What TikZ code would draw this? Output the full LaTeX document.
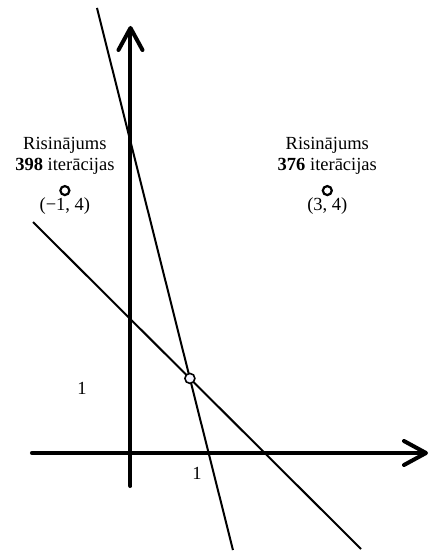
\documentclass[tikz,border=0pt]{standalone}
\usepackage{fontspec}
\setmainfont{Liberation Serif}
\usetikzlibrary{arrows.meta,positioning}
\begin{document}
\begin{tikzpicture}[x=65.6pt, y=65.6pt,
  axis/.style={line width=4pt, line cap=round, -{Straight Barb[length=22pt,width=24pt,line cap=round,line join=round]}},
  constraint/.style={line width=2pt},
  start/.style={draw, circle, line width=2.2pt, minimum size=9pt, inner sep=0pt, fill=white},
  result/.style={draw, circle, line width=1.6pt, minimum size=10pt, inner sep=0pt, fill=blue!4},
  every node/.style={font=\fontsize{18.5}{21.5}\selectfont}]
\useasboundingbox (-1.989,-1.509) rectangle (4.566,6.905);
\coordinate (xstart) at (-1.502,0);
\coordinate (xend) at (4.535,0);
\coordinate (ystart) at (0,-0.503);
\coordinate (yend) at (0,6.509);
\draw[axis] (xstart) -- (xend);
\draw[axis] (ystart) -- (yend);
\coordinate (steepA) at (-0.511,6.784);
\coordinate (steepB) at (1.562,-1.479);
\coordinate (flatA) at (-1.486,3.521);
\coordinate (flatB) at (3.514,-1.463);
\draw[constraint] (steepA) -- (steepB);
\draw[constraint] (flatA) -- (flatB);
\node[result] (solution) at (intersection of steepA--steepB and flatA--flatB) {};
\node[start] (startleft) at (-1,4) {};
\node[start] (startright) at (3,4) {};
\node[below=1pt of startleft, inner sep=0pt] (coordleft) {(−1, 4)};
\node[below=1pt of startright, inner sep=0pt] (coordright) {(3, 4)};
\node[above=10pt of startleft, align=center, inner sep=0pt] (itersleft) {Risinājums\\\textbf{398} iterācijas};
\node[above=10pt of startright, align=center, inner sep=0pt] (itersright) {Risinājums\\\textbf{376} iterācijas};
\node (onex) at (1.014,-0.305) {1};
\node (oney) at (-0.74,0.99) {1};
\end{tikzpicture}
\end{document}
